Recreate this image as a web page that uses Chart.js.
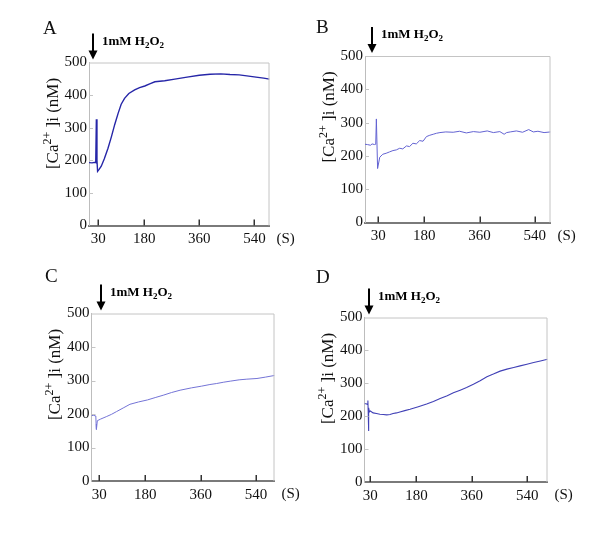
<!DOCTYPE html>
<html>
<head>
<meta charset="utf-8">
<script src="https://cdn.jsdelivr.net/npm/chart.js@4.4.1/dist/chart.umd.min.js"></script>
<style>
  body { margin: 0; background: #fff; }
  #wrap { position: relative; width: 600px; height: 536px; }
  #wrap canvas { position: absolute; left: 0; top: 0; }
</style>
</head>
<body>
<div id="wrap">
  <canvas id="chartA" width="600" height="536"></canvas>
  <canvas id="chartB" width="600" height="536"></canvas>
  <canvas id="chartC" width="600" height="536"></canvas>
  <canvas id="chartD" width="600" height="536"></canvas>
</div>
<script>
// time (s) and [Ca2+]i (nM)
const timeA = [0, 10, 20, 22, 24, 26, 28, 33, 40, 50, 62, 73, 84, 95, 105, 116, 130, 149, 165, 182, 200, 215, 247, 280, 320, 360, 395, 430, 460, 490, 515, 545, 570, 589];
const caA   = [193, 192, 194, 193, 326, 200, 166, 172, 182, 205, 237, 272, 310, 344, 372, 390, 405, 416, 423, 428, 435, 441, 444, 449, 455, 461, 464, 465, 463, 462, 459, 455, 452, 449];

const timeB = [-13, -5, 5, 10, 18, 22, 24, 28, 35, 45, 56, 67, 78, 89, 100, 110, 122, 132, 143, 154, 165, 176, 187, 198, 209, 220, 231, 250, 274, 295, 317, 340, 361, 385, 405, 426, 440, 448, 460, 480, 500, 520, 535, 550, 570, 591];
const caB   = [235, 234, 232, 236, 234, 235, 311, 162, 196, 205, 208, 212, 216, 218, 223, 221, 230, 228, 238, 236, 246, 244, 258, 262, 265, 268, 270, 272, 271, 274, 269, 273, 271, 275, 270, 273, 265, 270, 272, 275, 271, 279, 272, 274, 270, 272];

const timeC = [5, 12, 19, 20, 21, 24, 35, 53, 70, 86, 108, 130, 158, 187, 212, 238, 265, 293, 330, 362, 390, 412, 435, 456, 485, 510, 543, 570, 600];
const caC   = [195, 196, 194, 170, 154, 180, 185, 192, 199, 207, 218, 229, 236, 242, 249, 256, 264, 271, 278, 283, 288, 291, 295, 298, 302, 304, 306, 310, 315];

const timeD = [11, 16, 21, 22, 23, 24, 25, 27, 30, 39, 50, 61, 72, 83, 94, 104, 115, 126, 142, 159, 186, 213, 235, 257, 280, 300, 322, 343, 365, 387, 409, 430, 452, 474, 496, 517, 539, 561, 583, 606];
const caD   = [238, 238, 236, 248, 215, 155, 225, 213, 216, 210, 208, 206, 205, 204, 205, 208, 210, 213, 217, 221, 229, 237, 245, 254, 262, 271, 279, 287, 297, 308, 320, 328, 337, 343, 348, 353, 358, 363, 368, 373];

const xTicks = [30, 180, 360, 540];
const yMax = 500;
const yStep = 100;

const SERIF = '"Liberation Serif", "Times New Roman", serif';

// layout of each panel (page pixels) and its look
const panels = [
  { id: 'chartA', letter: 'A', time: timeA, ca: caA, color: '#2626a8', width: 1.4, xMin: 0,   xMax: 589,
    box: { l: 89,  t: 62.5,  r: 269.5, b: 225.5 }, letterPos: [43, 34],   arrowAt: 13 },
  { id: 'chartB', letter: 'B', time: timeB, ca: caB, color: '#6363d2', width: 1,   xMin: -13, xMax: 591,
    box: { l: 365, t: 56,    r: 550.5, b: 222.5 }, letterPos: [316, 33],  arrowAt: 9 },
  { id: 'chartC', letter: 'C', time: timeC, ca: caC, color: '#7474d6', width: 1,   xMin: 5,   xMax: 600,
    box: { l: 91.5, t: 313.5, r: 274.5, b: 481 },  letterPos: [45, 282],  arrowAt: 35 },
  { id: 'chartD', letter: 'D', time: timeD, ca: caD, color: '#4040b6', width: 1.1, xMin: 11,  xMax: 606,
    box: { l: 364.5, t: 317.5, r: 547.5, b: 482 }, letterPos: [316, 283], arrowAt: 25 }
];

const Y_AXIS_W = 40;
const X_AXIS_H = 30;

// draws frame, inward ticks, panel letter, H2O2 arrow and the y title
const panelDecor = {
  id: 'panelDecor',
  afterDraw(chart, args, opts) {
    const { ctx, chartArea: a } = chart;
    const x = chart.scales.x, y = chart.scales.y;
    ctx.save();

    // light frame on top and right
    ctx.strokeStyle = '#c4c4c4';
    ctx.lineWidth = 1;
    ctx.beginPath();
    ctx.moveTo(a.left, a.top + 0.5);
    ctx.lineTo(a.right - 0.5, a.top + 0.5);
    ctx.lineTo(a.right - 0.5, a.bottom);
    // tiny marks inside the y axis
    y.ticks.forEach(t => {
      if (t.value > 0 && t.value < yMax) {
        const py = Math.round(y.getPixelForValue(t.value)) + 0.5;
        ctx.moveTo(a.left, py);
        ctx.lineTo(a.left + 4, py);
      }
    });
    ctx.stroke();

    // x ticks pointing up
    ctx.strokeStyle = '#333';
    ctx.lineWidth = 1.5;
    ctx.beginPath();
    x.ticks.forEach(t => {
      const px = Math.round(x.getPixelForValue(t.value)) + 0.25;
      ctx.moveTo(px, a.bottom);
      ctx.lineTo(px, a.bottom - 6);
    });
    ctx.stroke();

    ctx.fillStyle = '#111';
    ctx.textBaseline = 'alphabetic';
    ctx.textAlign = 'left';

    // unit
    ctx.font = '15px ' + SERIF;
    ctx.fillText('(S)', a.right + 7, a.bottom + 17);

    // panel letter
    ctx.font = '19px ' + SERIF;
    ctx.fillText(opts.letter, opts.letterPos[0], opts.letterPos[1]);

    // arrow for H2O2 addition
    const ax = Math.round(x.getPixelForValue(opts.arrowAt));
    ctx.strokeStyle = '#000';
    ctx.fillStyle = '#000';
    ctx.lineWidth = 2;
    ctx.beginPath();
    ctx.moveTo(ax, a.top - 29);
    ctx.lineTo(ax, a.top - 10);
    ctx.stroke();
    ctx.beginPath();
    ctx.moveTo(ax - 4.5, a.top - 12);
    ctx.lineTo(ax + 4.5, a.top - 12);
    ctx.lineTo(ax, a.top - 3);
    ctx.closePath();
    ctx.fill();

    let tx = ax + 9;
    const ty = a.top - 18;
    const parts = [['1mM H', 13, 0], ['2', 9, 3], ['O', 13, 0], ['2', 9, 3]];
    parts.forEach(([s, size, dy]) => {
      ctx.font = 'bold ' + size + 'px ' + SERIF;
      ctx.fillText(s, tx, ty + dy);
      tx += ctx.measureText(s).width;
    });

    // y axis title with superscript
    ctx.fillStyle = '#111';
    ctx.translate(a.left - 37, a.top + 61);
    ctx.rotate(-Math.PI / 2);
    const tparts = [['[Ca', 17, 0], ['2+', 12, -7], [' ]i (nM)', 17, 0]];
    let total = 0;
    tparts.forEach(([s, size]) => { ctx.font = size + 'px ' + SERIF; total += ctx.measureText(s).width; });
    let cx = -total / 2;
    tparts.forEach(([s, size, dy]) => {
      ctx.font = size + 'px ' + SERIF;
      ctx.fillText(s, cx, 5.5 + dy);
      cx += ctx.measureText(s).width;
    });
    ctx.restore();
  }
};

Chart.register(panelDecor);
Chart.defaults.font.family = SERIF;
Chart.defaults.color = '#111';

panels.forEach(p => {
  const points = p.time.map((t, i) => ({ x: t, y: p.ca[i] }));
  const config = {
    type: 'line',
    data: {
      datasets: [{
        data: points,
        borderColor: p.color,
        borderWidth: p.width,
        pointRadius: 0,
        tension: 0,
        fill: false
      }]
    },
    options: {
      responsive: false,
      animation: false,
      events: [],
      layout: {
        padding: {
          left: p.box.l - Y_AXIS_W,
          top: p.box.t,
          right: 600 - p.box.r,
          bottom: 536 - p.box.b - X_AXIS_H
        }
      },
      plugins: {
        legend: { display: false },
        tooltip: { enabled: false },
        panelDecor: { letter: p.letter, letterPos: p.letterPos, arrowAt: p.arrowAt }
      },
      scales: {
        x: {
          type: 'linear',
          min: p.xMin,
          max: p.xMax,
          afterBuildTicks: axis => { axis.ticks = xTicks.map(v => ({ value: v })); },
          afterFit: axis => { axis.height = X_AXIS_H; },
          grid: { display: false, drawTicks: false },
          border: { display: true, color: '#7a7a7a', width: 2 },
          ticks: {
            autoSkip: false,
            maxRotation: 0,
            padding: 5,
            font: { size: 15 },
            callback: v => String(v)
          }
        },
        y: {
          min: 0,
          max: yMax,
          afterFit: axis => { axis.width = Y_AXIS_W; },
          grid: { display: false, drawTicks: false },
          border: { display: true, color: '#bdbdbd', width: 1 },
          ticks: {
            stepSize: yStep,
            padding: 2,
            font: { size: 15 }
          }
        }
      }
    }
  };
  new Chart(document.getElementById(p.id), config);
});
</script>
</body>
</html>
